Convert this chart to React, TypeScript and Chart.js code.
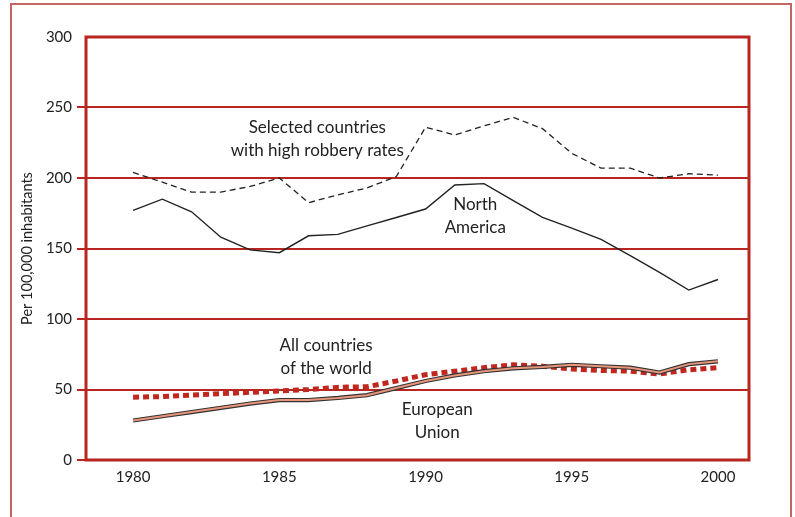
import React, { useEffect, useRef } from "react";
import { Chart, registerables } from "chart.js";

Chart.register(...registerables);

const YEARS = [1980, 1981, 1982, 1983, 1984, 1985, 1986, 1987, 1988, 1989, 1990, 1991, 1992, 1993, 1994, 1995, 1996, 1997, 1998, 1999, 2000];
const SELECTED = [204, 197, 190, 190, 194, 200, 182.5, 188, 193, 201, 236, 230.5, 237, 243, 235, 217.5, 207, 207, 200, 203, 202];
const NORTH_AMERICA = [177, 185, 176, 158, 149, 147, 159, 160, 166, 172, 178, 195, 196, 184, 172, 164.5, 156.5, 145, 133, 120.5, 128];
const EUROPEAN_UNION = [28, 31, 34, 37, 40, 42.5, 42.5, 44, 46, 51, 56, 60, 63, 65, 66, 67.5, 66.5, 65.5, 62, 68, 70];
const ALL_COUNTRIES = [44.5, 45, 46, 47, 48, 49, 50, 51.5, 52, 56, 60.5, 63, 65.5, 67.5, 66.5, 64.5, 63.5, 63, 61, 64, 65.5];
const X_TICKS = [1980, 1985, 1990, 1995, 2000];
const Y_TICKS = [0, 50, 100, 150, 200, 250, 300];
const Y_TITLE = "Per 100,000 inhabitants";
const ANNOTATIONS = [
  { lines: ["Selected countries", "with high robbery rates"], x: 1986.3, y: 236 },
  { lines: ["North", "America"], x: 1991.7, y: 181.5 },
  { lines: ["All countries", "of the world"], x: 1986.6, y: 81.5 },
  { lines: ["European", "Union"], x: 1990.4, y: 35.5 },
];

const FONT = "Lato, 'Open Sans', sans-serif";
const RED = "#b8261f";

const pts = (arr: number[]) => arr.map((v, i) => ({ x: YEARS[i], y: v }));

const decorPlugin = {
  id: "decor",
  afterDatasetsDraw(chart: any) {
    const ctx = chart.ctx;
    const a = chart.chartArea;
    ctx.save();
    ctx.strokeStyle = RED;
    ctx.lineWidth = 3;
    ctx.strokeRect(a.left, a.top, a.right - a.left, a.bottom - a.top);
    const xs = chart.scales.x;
    const ys = chart.scales.y;
    ctx.fillStyle = "#222";
    ctx.font = "17px " + FONT;
    ctx.textAlign = "center";
    ctx.textBaseline = "middle";
    ANNOTATIONS.forEach((an) => {
      const px = xs.getPixelForValue(an.x);
      const py = ys.getPixelForValue(an.y);
      an.lines.forEach((l, i) => ctx.fillText(l, px, py + i * 23));
    });
    ctx.restore();
  },
};

export default function App() {
  const ref = useRef<HTMLCanvasElement>(null);
  useEffect(() => {
    if (!ref.current) return;
    const chart = new Chart(ref.current, {
      type: "line",
      data: {
        datasets: [
          { data: pts(SELECTED), borderColor: "#222", borderWidth: 1.3, borderDash: [6, 4], order: 5 },
          { data: pts(NORTH_AMERICA), borderColor: "#222", borderWidth: 1.4, order: 4 },
          { data: pts(ALL_COUNTRIES), borderColor: "#c0271e", borderWidth: 5, borderDash: [6, 4], borderCapStyle: "butt", order: 3 },
          { data: pts(EUROPEAN_UNION), borderColor: "#333", borderWidth: 4.2, order: 2 },
          { data: pts(EUROPEAN_UNION), borderColor: "#e8957a", borderWidth: 2, order: 1 },
        ],
      },
      options: {
        animation: false,
        responsive: false,
        devicePixelRatio: 1,
        elements: { point: { radius: 0 }, line: { tension: 0, fill: false } },
        layout: { padding: { left: 0, top: 37, right: 46, bottom: 0 } },
        plugins: { legend: { display: false }, tooltip: { enabled: false } },
        scales: {
          x: {
            type: "linear",
            min: 1978.39,
            max: 2001.06,
            afterBuildTicks: (s: any) => { s.ticks = X_TICKS.map((v) => ({ value: v })); },
            afterFit: (s: any) => { s.height = 57; },
            grid: { display: false, drawTicks: false },
            border: { display: false },
            ticks: { padding: 8, color: "#222", font: { family: FONT, size: 15 }, callback: (v: any) => String(v) },
          },
          y: {
            min: 0,
            max: 300,
            afterBuildTicks: (s: any) => { s.ticks = Y_TICKS.map((v) => ({ value: v })); },
            afterFit: (s: any) => { s.width = 86; },
            grid: {
              color: (c: any) => (c.tick && c.tick.value === 300 ? "rgba(0,0,0,0)" : RED),
              lineWidth: 2,
              tickLength: 9,
            },
            border: { display: false },
            ticks: { padding: 5, color: "#222", font: { family: FONT, size: 15 } },
            title: { display: true, text: Y_TITLE, color: "#222", font: { family: FONT, size: 14.5 }, padding: { top: 19, bottom: 0 } },
          },
        },
      },
      plugins: [decorPlugin],
    } as any);
    return () => chart.destroy();
  }, []);
  return (
    <div style={{ position: "fixed", left: 0, top: 0, width: 795, height: 517, overflow: "hidden", background: "#fff" }}>
      <canvas ref={ref} width={795} height={517} style={{ display: "block", position: "absolute", left: 0, top: 0 }} />
      <div
        style={{
          position: "absolute",
          left: 10,
          top: 3,
          width: 778,
          height: 600,
          borderTop: "2px solid #c26666",
          borderLeft: "2px solid #c26666",
          borderRight: "2px solid #c26666",
          pointerEvents: "none",
        }}
      />
    </div>
  );
}
